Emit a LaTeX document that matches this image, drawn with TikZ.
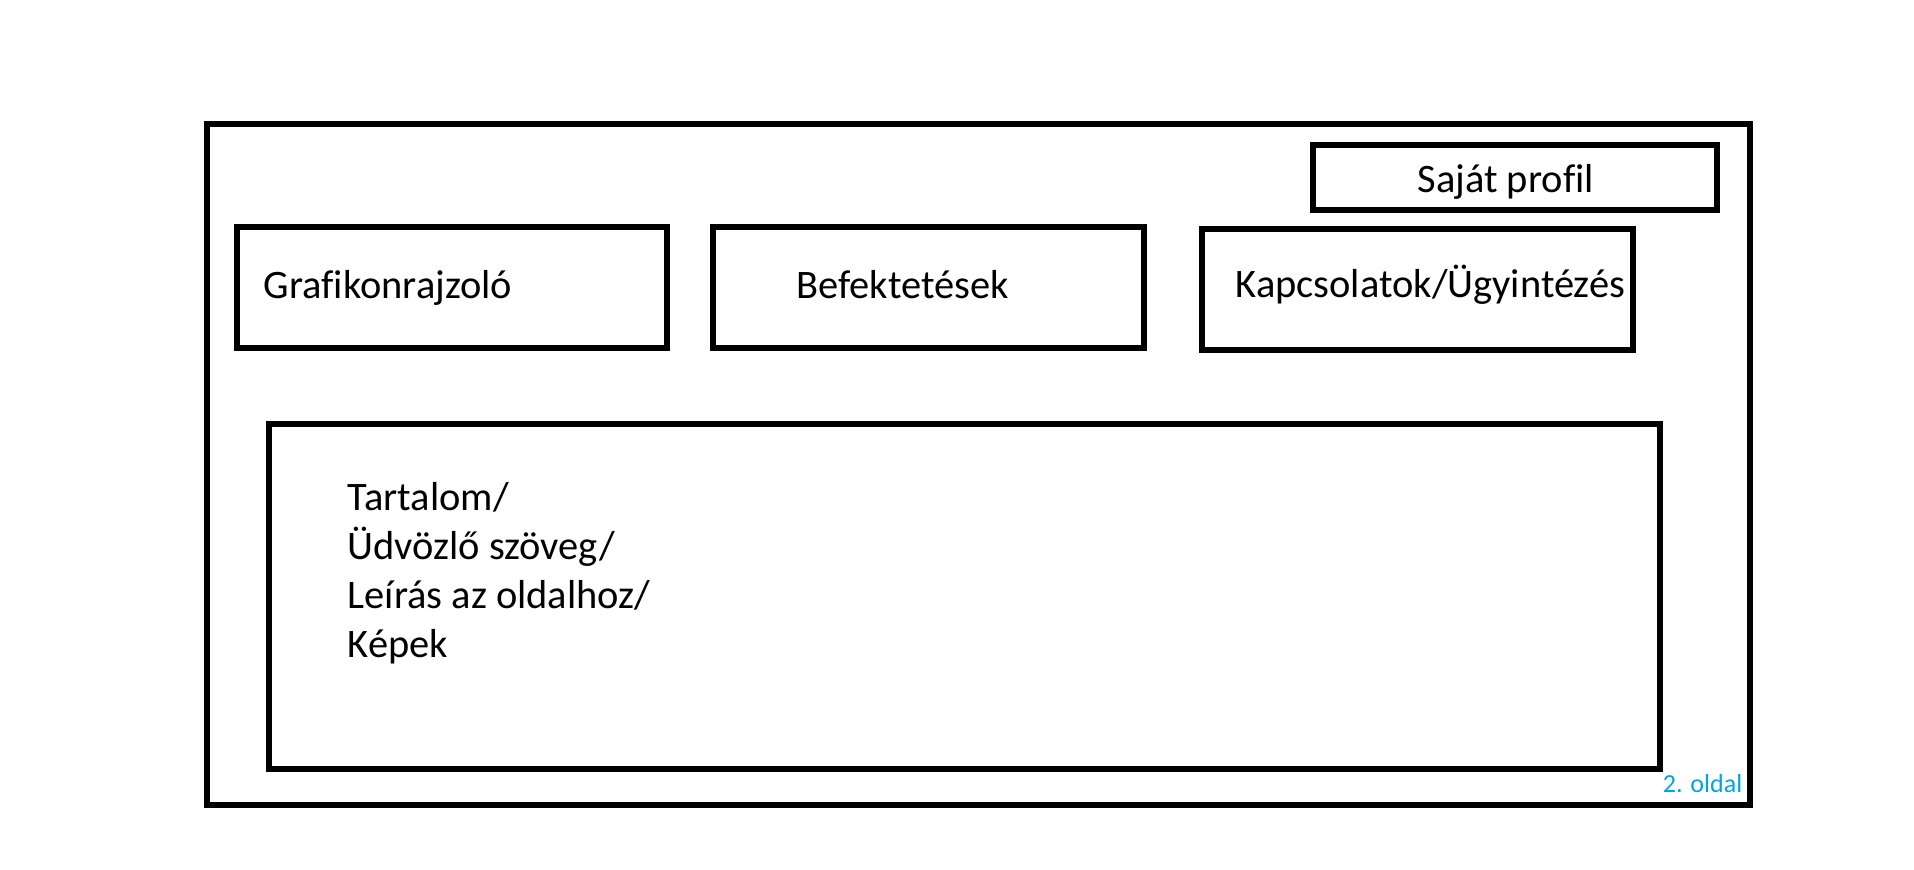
\documentclass[tikz,border=0pt]{standalone}
\usepackage{fontspec}
\setmainfont[Ligatures=NoCommon]{Carlito}
\definecolor{oldalblue}{HTML}{00A2E8}

\begin{document}
\begin{tikzpicture}[x=0.01cm,y=-0.01cm,
  box/.style={line width=1.5pt},
  label/.style={anchor=base west,inner sep=0pt,font=\fontsize{11.5}{14}\selectfont}]
\useasboundingbox (0,0) rectangle (1914,869);

% page frame
\draw[box] (207,124) rectangle (1750,805);

% menu boxes
\draw[box] (1313,145) rectangle (1717,210);
\draw[box] (237,227) rectangle (667,348);
\draw[box] (713,227) rectangle (1144,348);
\draw[box] (1202,229) rectangle (1633,350);

% content box
\draw[box] (269,424) rectangle (1660,769);

\node[label] (profil) at (1417,192) {Saját profil};
\node[label] (grafikon) at (263,298) {Grafikonrajzoló};
\node[label] (befekt) at (796,298) {Befektetések};
\node[label] (kapcs) at (1235,297) {Kapcsolatok/Ügyintézés};

\node[label] (tartalom) at (347,510) {Tartalom/};
\node[label] (udvozlo) at (347,559) {Üdvözlő szöveg/};
\node[label] (leiras) at (347,608) {Leírás az oldalhoz/};
\node[label] (kepek) at (347,657) {Képek};

\node[anchor=base east,inner sep=0pt,text=oldalblue,font=\fontsize{7.4}{9}\selectfont] (oldal) at (1743,792) {2. oldal};
\end{tikzpicture}
\end{document}
